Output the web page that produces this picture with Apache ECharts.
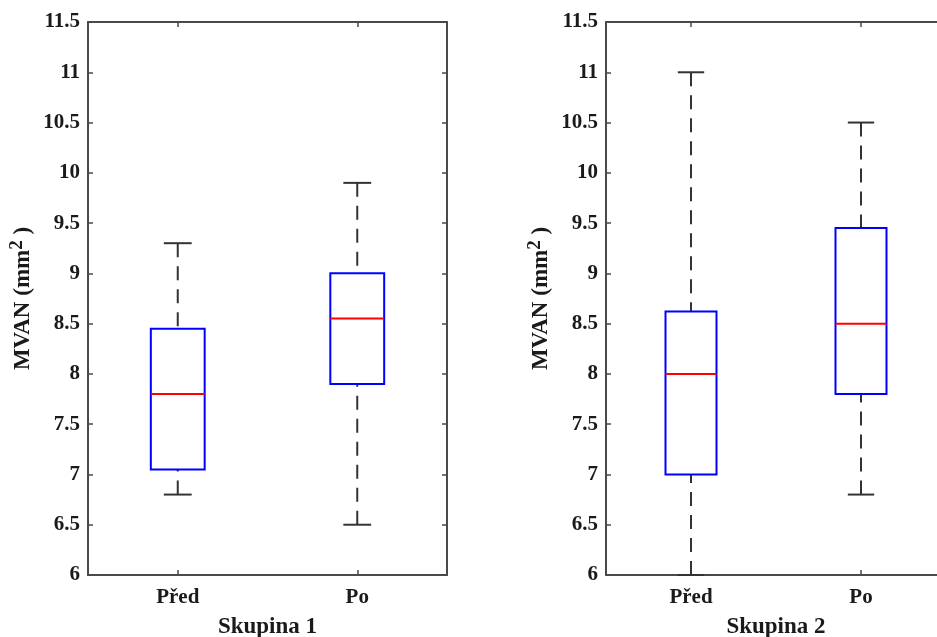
<!DOCTYPE html>
<html>
<head>
<meta charset="utf-8">
<script src="https://cdn.jsdelivr.net/npm/echarts@6/dist/echarts.min.js"></script>
<style>
html,body{margin:0;padding:0;background:#fff;}
#c{width:937px;height:637px;}
</style>
</head>
<body>
<div id="c"></div>
<script>
// ---- data ----
const categories = ['Před', 'Po'];
const groupNames = ['Skupina 1', 'Skupina 2'];
// Skupina 1
const g1Min = [6.8, 6.5];
const g1Q1 = [7.05, 7.9];
const g1Median = [7.8, 8.55];
const g1Q3 = [8.45, 9.0];
const g1Max = [9.3, 9.9];
// Skupina 2
const g2Min = [6.0, 6.8];
const g2Q1 = [7.0, 7.8];
const g2Median = [8.0, 8.5];
const g2Q3 = [8.62, 9.45];
const g2Max = [11.0, 10.5];
const yMin = 6, yMax = 11.5, yStep = 0.5;

function rows(mn, q1, md, q3, mx) {
  return categories.map((c, i) => [i, mn[i], q1[i], md[i], q3[i], mx[i]]);
}

const FONT = 'Liberation Serif';
const TXT = '#1a1a1a';
const AX = '#4a4a4a';

function renderBox(params, api) {
  const x = api.value(0);
  const mn = api.coord([x, api.value(1)]);
  const q1 = api.coord([x, api.value(2)]);
  const md = api.coord([x, api.value(3)]);
  const q3 = api.coord([x, api.value(4)]);
  const mx = api.coord([x, api.value(5)]);
  const band = api.size([1, 0])[0];
  const bw = band * 0.30, cw = band * 0.155;
  const cx = mn[0];
  const wStyle = { stroke: '#333', lineWidth: 2, lineDash: [14, 9] };
  const cStyle = { stroke: '#333', lineWidth: 2 };
  return {
    type: 'group',
    children: [
      { type: 'line', shape: { x1: cx, y1: mx[1], x2: cx, y2: q3[1] }, style: wStyle },
      { type: 'line', shape: { x1: cx, y1: mn[1], x2: cx, y2: q1[1] }, style: wStyle },
      { type: 'line', shape: { x1: cx - cw / 2, y1: mx[1], x2: cx + cw / 2, y2: mx[1] }, style: cStyle },
      { type: 'line', shape: { x1: cx - cw / 2, y1: mn[1], x2: cx + cw / 2, y2: mn[1] }, style: cStyle },
      { type: 'rect', shape: { x: cx - bw / 2, y: q3[1], width: bw, height: q1[1] - q3[1] },
        style: { fill: '#fff', stroke: '#0000ff', lineWidth: 2 } },
      { type: 'line', shape: { x1: cx - bw / 2, y1: md[1], x2: cx + bw / 2, y2: md[1] },
        style: { stroke: '#ff0000', lineWidth: 2 } }
    ]
  };
}

const grids = [
  { left: 88, top: 22, width: 359, height: 553, outerBoundsMode: 'none', containLabel: false },
  { left: 606, top: 22, width: 340, height: 553, outerBoundsMode: 'none', containLabel: false }
];

const xAxes = [], yAxes = [];
groupNames.forEach((g, i) => {
  xAxes.push({
    type: 'category', data: categories, gridIndex: i, position: 'bottom',
    name: g, nameLocation: 'middle', nameGap: 41,
    nameTextStyle: { fontFamily: FONT, fontWeight: 'bold', fontSize: 23, color: TXT },
    axisLine: { show: true, lineStyle: { color: AX, width: 2 } },
    axisTick: { show: true, inside: true, alignWithLabel: true, length: 5, lineStyle: { color: AX, width: 1.5 } },
    axisLabel: { fontFamily: FONT, fontWeight: 'bold', fontSize: 21, color: TXT, margin: 12 },
    splitLine: { show: false }
  });
  xAxes.push({
    type: 'category', data: categories, gridIndex: i, position: 'top',
    axisLine: { show: true, lineStyle: { color: AX, width: 2 } },
    axisTick: { show: true, inside: true, alignWithLabel: true, length: 5, lineStyle: { color: AX, width: 1.5 } },
    axisLabel: { show: false }, splitLine: { show: false }
  });
  yAxes.push({
    type: 'value', gridIndex: i, position: 'left', min: yMin, max: yMax, interval: yStep,
    name: '{a|MVAN (mm}{s|2}{a| )}', nameLocation: 'middle', nameGap: 50, nameRotate: 90,
    nameTextStyle: {
      rich: {
        a: { fontFamily: FONT, fontWeight: 'bold', fontSize: 23, color: TXT },
        s: { fontFamily: FONT, fontWeight: 'bold', fontSize: 19, color: TXT, padding: [0, 0, 11, 0] }
      }
    },
    axisLine: { show: true, lineStyle: { color: AX, width: 2 } },
    axisTick: { show: true, inside: true, length: 5, lineStyle: { color: AX, width: 1.5 } },
    axisLabel: { fontFamily: FONT, fontWeight: 'bold', fontSize: 21, color: TXT, margin: 8 },
    splitLine: { show: false }
  });
  yAxes.push({
    type: 'value', gridIndex: i, position: 'right', min: yMin, max: yMax, interval: yStep,
    axisLine: { show: true, lineStyle: { color: AX, width: 2 } },
    axisTick: { show: true, inside: true, length: 5, lineStyle: { color: AX, width: 1.5 } },
    axisLabel: { show: false }, splitLine: { show: false }
  });
});

const series = [
  { type: 'custom', xAxisIndex: 0, yAxisIndex: 0, renderItem: renderBox,
    encode: { x: 0, y: [1, 2, 3, 4, 5] }, data: rows(g1Min, g1Q1, g1Median, g1Q3, g1Max), clip: false },
  { type: 'custom', xAxisIndex: 2, yAxisIndex: 2, renderItem: renderBox,
    encode: { x: 0, y: [1, 2, 3, 4, 5] }, data: rows(g2Min, g2Q1, g2Median, g2Q3, g2Max), clip: false }
];

const chart = echarts.init(document.getElementById('c'), null, { renderer: 'canvas' });
chart.setOption({
  animation: false,
  backgroundColor: '#fff',
  grid: grids,
  xAxis: xAxes,
  yAxis: yAxes,
  series: series
});
</script>
</body>
</html>
